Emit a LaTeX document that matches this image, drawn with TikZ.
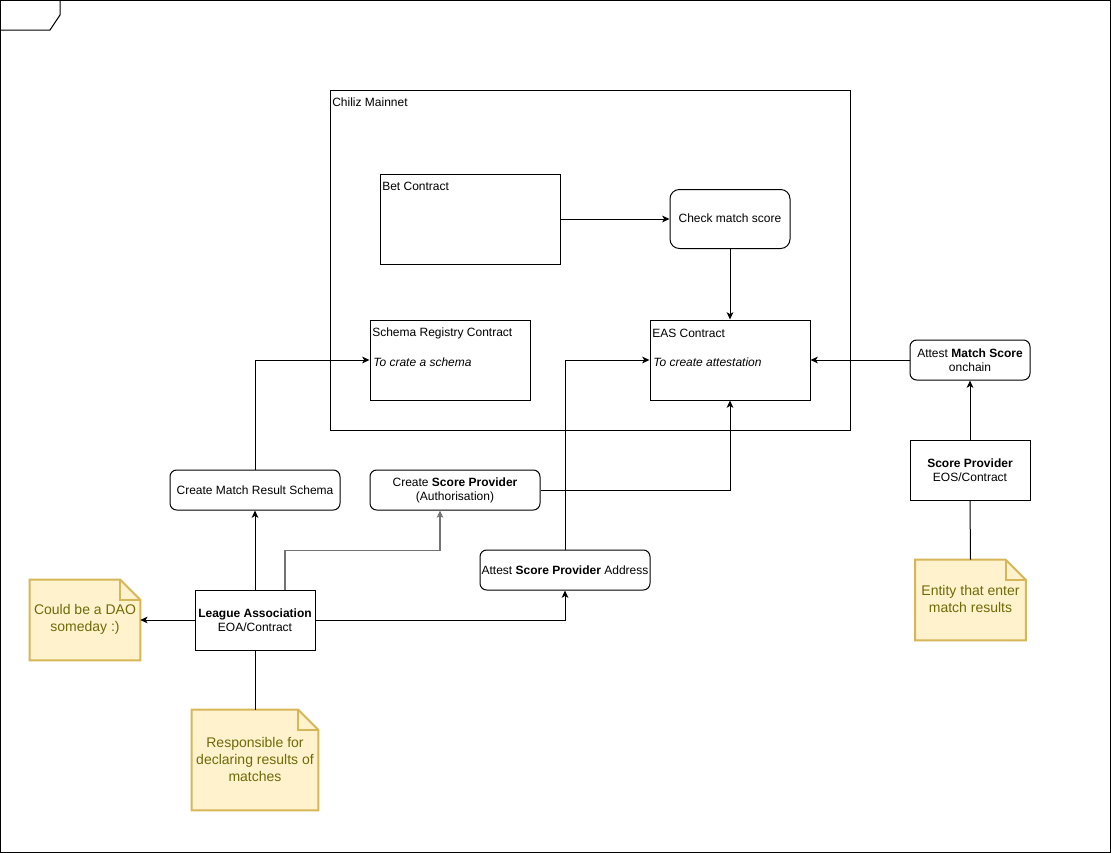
\documentclass[tikz,border=0pt]{standalone}
\usepackage{fontspec}
\setmainfont{Liberation Sans}
\usetikzlibrary{arrows.meta,calc}
\definecolor{notefill}{HTML}{FFF2CC}
\definecolor{notedraw}{HTML}{D6B656}
\definecolor{notetext}{HTML}{6E6A08}
\begin{document}
\begin{tikzpicture}[x=0.75pt,y=-0.75pt,
  every node/.style={font=\fontsize{9pt}{10.5pt}\selectfont, align=center},
  box/.style={draw, line width=0.75pt, fill=white, inner sep=0pt},
  rbox/.style={box, rounded corners=5pt},
  notebox/.style={inner sep=0pt, text=notetext, font=\fontsize{10.5pt}{12.75pt}\selectfont},
  tl/.style={anchor=west, inner sep=0pt, align=left},
  arr/.style={line width=0.75pt, -{Stealth[length=5.5pt,width=5pt,inset=1.5pt]}},
  arrg/.style={arr, draw=black!55, line width=1pt},
  plain/.style={line width=0.75pt}]
\useasboundingbox (0,0) rectangle (1111,853);
% outer frame
\draw[plain] (0.5,0.5) rectangle (1110.5,852.5);
\draw[plain] (0.5,30) -- (50,30) -- (60,15) -- (60,0.5);
% container
\node[box, minimum width=390pt, minimum height=255pt] (chiliz) at (590,260) {};
\node[tl] (chilizlbl) at (332,102.5) {Chiliz Mainnet};
% contracts
\node[box, minimum width=135pt, minimum height=67.5pt] (bet) at (470,219) {};
\node[tl] (betlbl) at (382,186.5) {Bet Contract};
\node[rbox, rounded corners=7pt, minimum width=90pt, minimum height=44.25pt] (check) at (730,219) {\raisebox{1pt}{Check match score}};
\node[box, minimum width=120pt, minimum height=60pt] (schema) at (450,360) {};
\node[tl] (schemalbl) at (372,333) {Schema Registry Contract};
\node[tl] (schemait) at (373,362.5) {\itshape To crate a schema};
\node[box, minimum width=120pt, minimum height=60pt] (eas) at (730,360) {};
\node[tl] (easlbl) at (652,333) {EAS Contract};
\node[tl] (easit) at (653,362.5) {\itshape To create attestation};
% right side
\node[rbox, minimum width=90pt, minimum height=30pt] (attms) at (970,360) {Attest \textbf{Match Score}\\onchain};
\node[box, minimum width=90pt, minimum height=45pt] (scorep) at (970,470) {\textbf{Score Provider}\\EOS/Contract};
% actions
\node[rbox, minimum width=127.5pt, minimum height=30pt] (cmrs) at (255,490) {Create Match Result Schema};
\node[rbox, minimum width=127.5pt, minimum height=30pt] (csp) at (455,490) {Create \textbf{Score Provider}\\(Authorisation)};
\node[rbox, minimum width=127.5pt, minimum height=30pt] (asp) at (565,570) {Attest \textbf{Score Provider} Address};
\node[box, minimum width=90pt, minimum height=45pt] (league) at (255,620) {\textbf{League Association}\\EOA/Contract};
% notes
\node[notebox, minimum width=82.5pt, minimum height=60pt] (dao) at (85,620) {};
\node[notebox, minimum width=94.5pt, minimum height=75pt] (resp) at (255,760) {};
\node[notebox, minimum width=82.5pt, minimum height=60pt] (entity) at (970.5,600) {};
\foreach \n in {dao,resp,entity}{
  \draw[draw=notedraw, fill=notefill, line width=1.5pt, line join=miter]
    (\n.north west) -- ($(\n.north east)+(-20,0)$) -- ($(\n.north east)+(0,20)$)
    -- (\n.south east) -- (\n.south west) -- cycle;
  \draw[draw=notedraw, line width=1.5pt]
    ($(\n.north east)+(-20,0)$) -- ($(\n.north east)+(-20,20)$) -- ($(\n.north east)+(0,20)$);
}
\node[notebox] (daotxt) at ($(dao.center)+(0,-1)$) {Could be a DAO\\someday :)};
\node[notebox] (resptxt) at ($(resp.center)+(0,-1)$) {Responsible for\\declaring results of\\matches};
\node[notebox] (entitytxt) at ($(entity.center)+(0,-1)$) {Entity that enter\\match results};
% connectors
\draw[arr] (bet.east) -- (check.west);
\draw[arr] (check.south) -- (eas.north);
\draw[arr] (attms.west) -- (eas.east);
\draw[arr] (scorep.north) -- (attms.south);
\draw[plain] (entity.north) -- (scorep.south);
\draw[arr] (cmrs.north) |- (schema.west);
\draw[arr] (league.north) -- (cmrs.south);
\draw[arrg] ($(league.north)+(30,0)$) |- ($(csp.south)+(-15,40)$) -- ($(csp.south)+(-15,0)$);
\draw[arr] (csp.east) -| (eas.south);
\draw[arr] (asp.north) |- (eas.west);
\draw[arr] (league.east) -| (asp.south);
\draw[arr] (league.west) -- (dao.east);
\draw[plain] (league.south) -- (resp.north);
\end{tikzpicture}
\end{document}
